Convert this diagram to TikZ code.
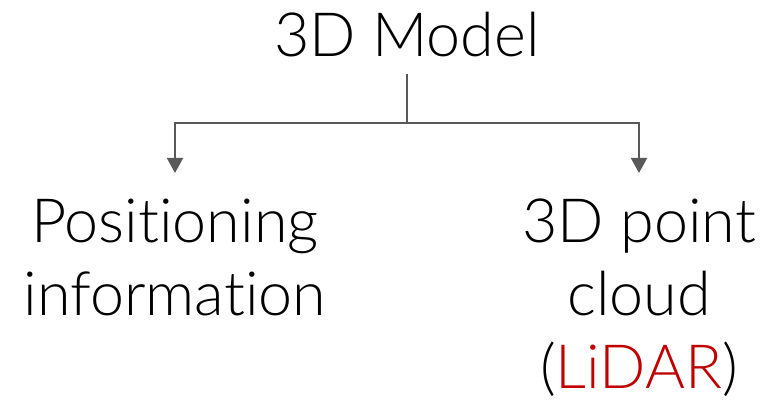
\documentclass[tikz,border=0pt]{standalone}
\usepackage{fontspec}
\setmainfont{Lato Light}[Ligatures=NoCommon]
\usepackage{tikz}
\usetikzlibrary{positioning, arrows.meta}

\definecolor{linegray}{HTML}{595959}
\definecolor{lidarred}{HTML}{C00000}

\begin{document}
\begin{tikzpicture}[
  x=1pt, y=1pt,
  font=\fontsize{61}{73}\selectfont,
  label/.style={inner sep=0pt, align=center},
  link/.style={draw=linegray, line width=2pt},
  branch/.style={link, -{Triangle[width=16pt, length=15pt]}},
]
\useasboundingbox (0,0) rectangle (771,406);

\node[label, anchor=base] (model) at (407,349) {3D Model};
\node[label, anchor=north] (pos) at (175,207) {Positioning\\information};
\node[label, anchor=north] (cloud) at (639,207) {3D point\\cloud\\(\textcolor{lidarred}{LiDAR})};

\coordinate (split) at (407,283);

\draw[link, shorten <=16pt] (model.south) -- (split);
\draw[branch, shorten >=26pt] (split) -| (pos.north);
\draw[branch, shorten >=26pt] (split) -| (cloud.north);
\end{tikzpicture}
\end{document}
